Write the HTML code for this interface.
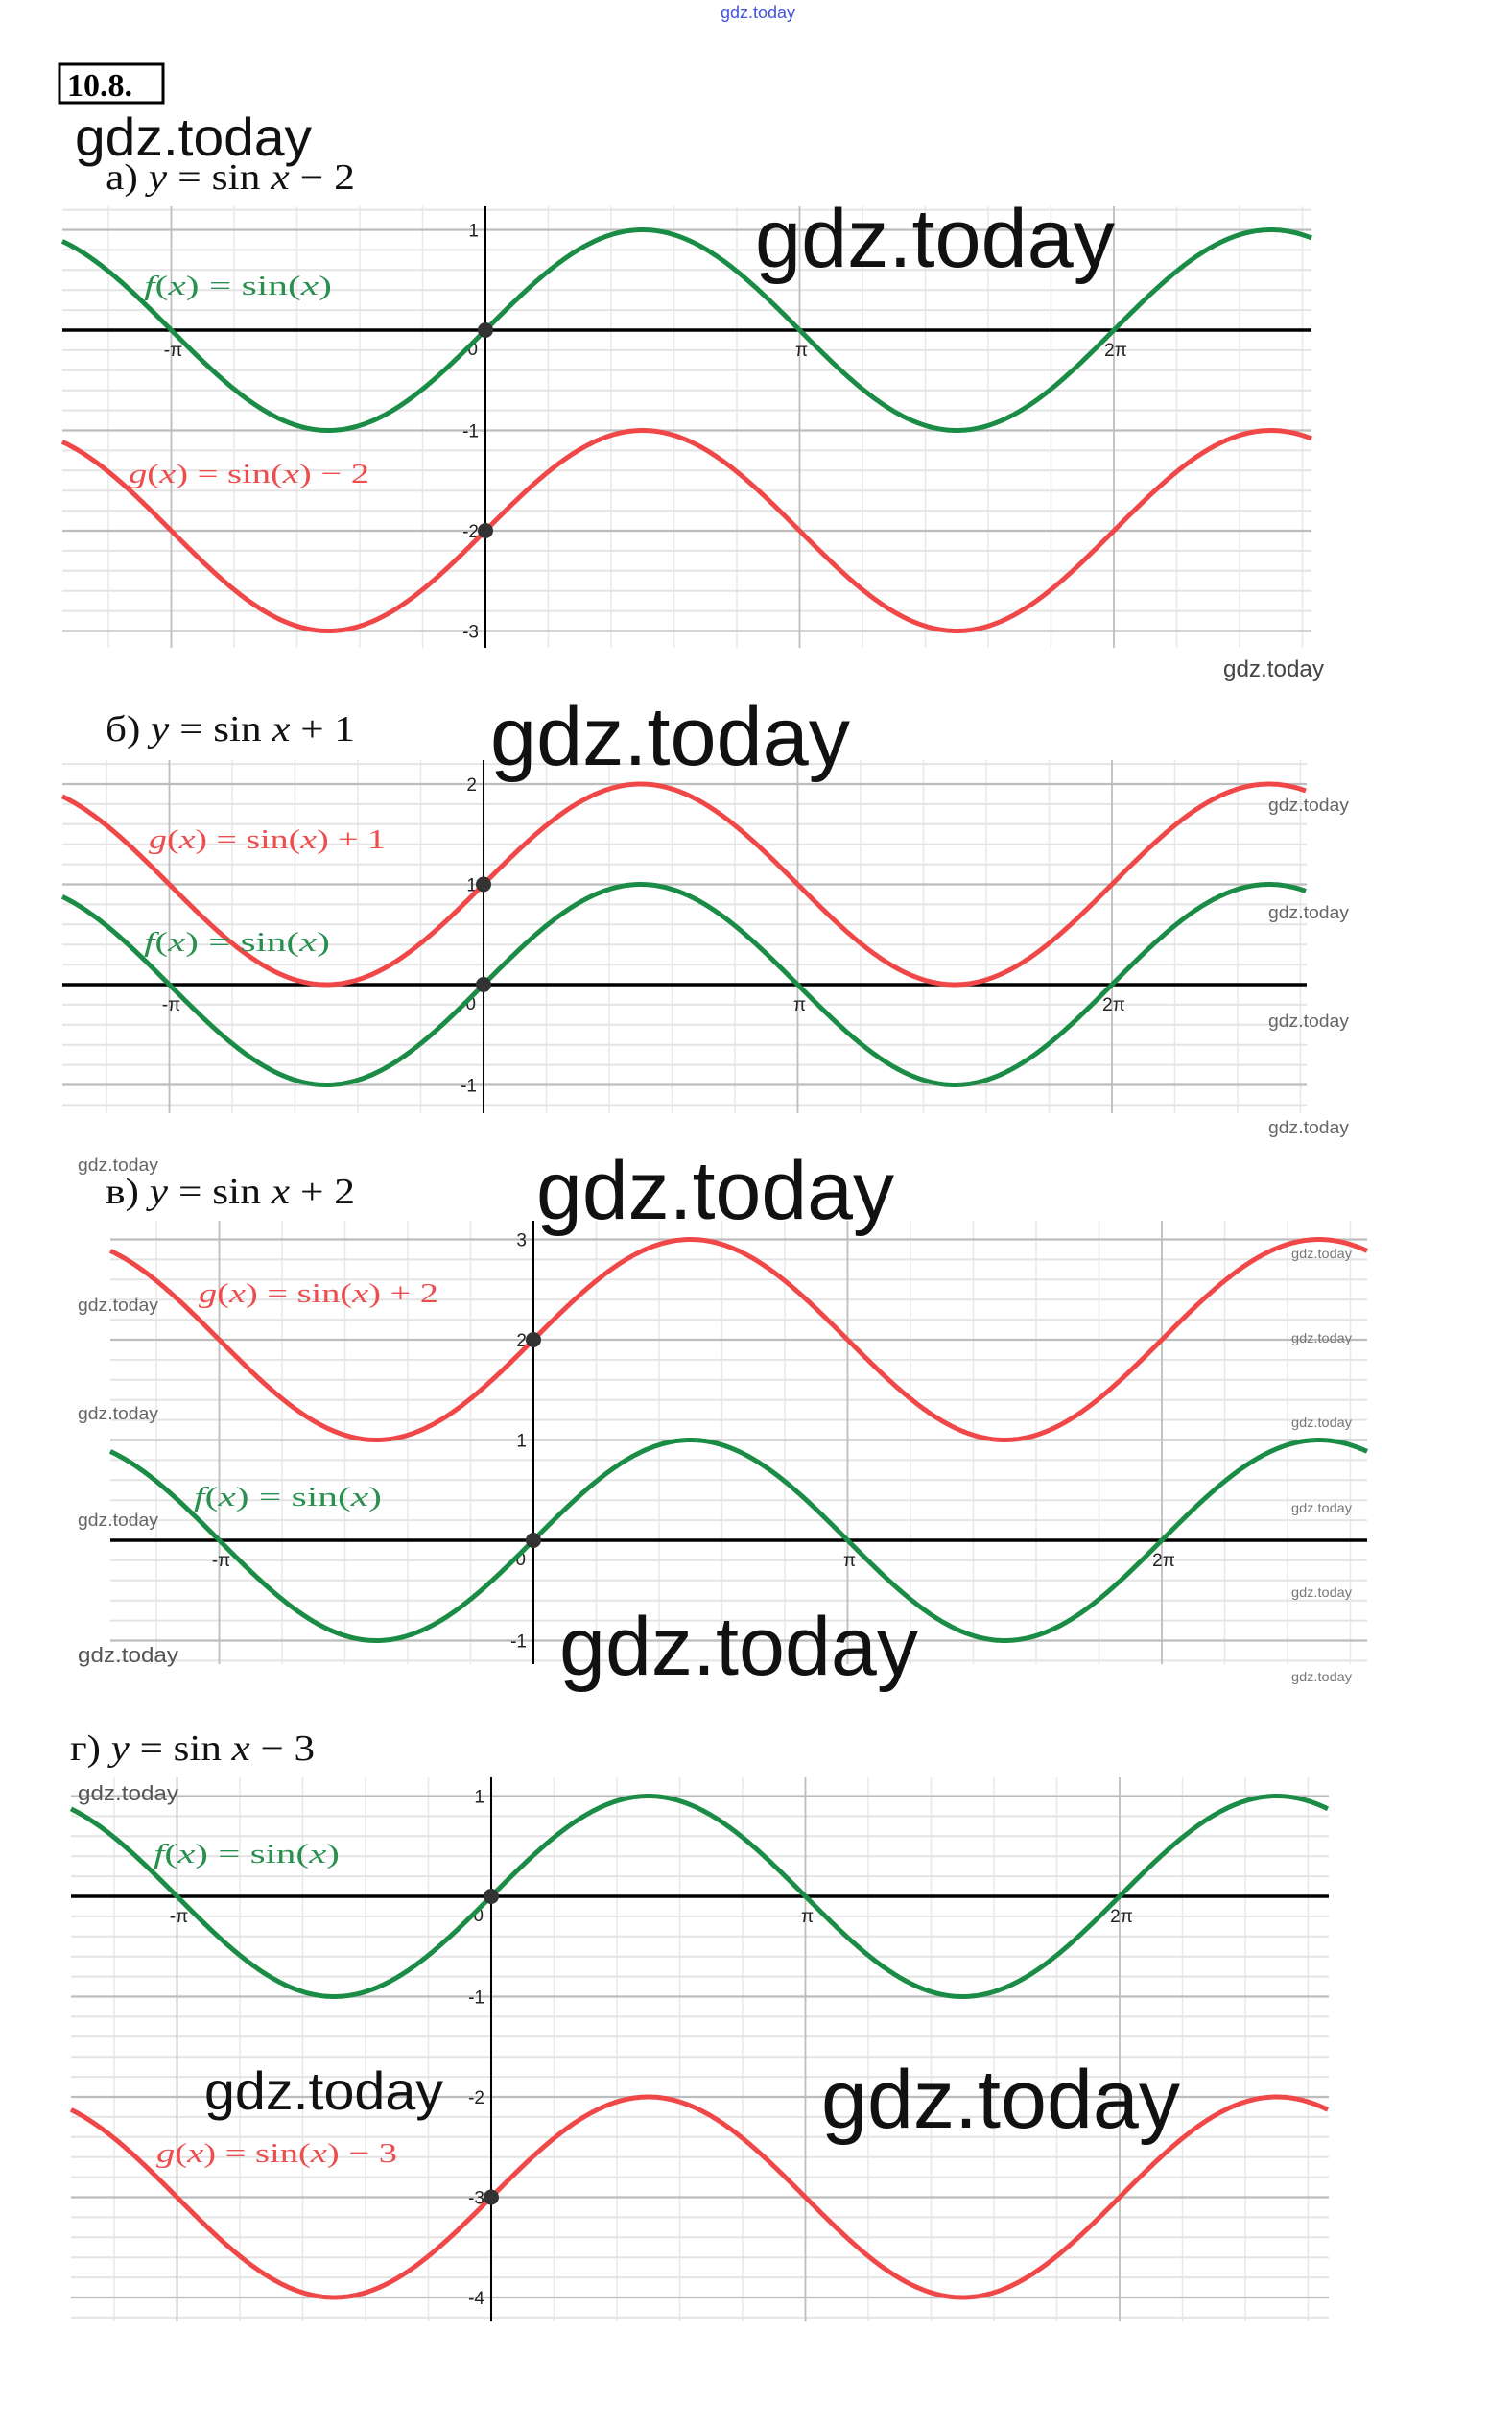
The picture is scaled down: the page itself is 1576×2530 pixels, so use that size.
<!DOCTYPE html>
<html><head><meta charset="utf-8"><style>
html,body{margin:0;padding:0;background:#fff;}
svg{display:block;}
.wm{font-family:"Liberation Sans",sans-serif;fill:#111;}
.hd{font-family:"Liberation Serif","Noto Serif CJK SC",serif;font-size:38px;fill:#111;}
.lb{font-family:"Liberation Serif",serif;font-size:29px;}
.tk{font-family:"Liberation Sans",sans-serif;font-size:19px;fill:#222;}
</style></head><body>
<svg id="s" width="1576" height="2530" viewBox="0 0 1576 2530" xmlns="http://www.w3.org/2000/svg">
<g id="plots"></g>
<text x="790" y="19" text-anchor="middle" class="wm" font-size="18" fill="#4455dd" style="fill:#4455dd">gdz.today</text>
<rect x="62" y="67" width="108" height="40" fill="none" stroke="#000" stroke-width="3"/>
<text x="70" y="100" font-family="Liberation Serif,serif" font-weight="bold" font-size="34">10.8.</text>
<text x="78" y="162" class="wm" font-size="56" textLength="247" lengthAdjust="spacingAndGlyphs">gdz.today</text>
<text x="110" y="197" class="hd" textLength="260" lengthAdjust="spacingAndGlyphs">а) <tspan font-style="italic">y</tspan> = sin <tspan font-style="italic">x</tspan> − 2</text>
<text x="787" y="278" class="wm" font-size="86" textLength="375" lengthAdjust="spacingAndGlyphs">gdz.today</text>
<text x="1275" y="705" class="wm" font-size="24" textLength="105" lengthAdjust="spacingAndGlyphs" style="fill:#444">gdz.today</text>

<text x="110" y="772" class="hd" textLength="260" lengthAdjust="spacingAndGlyphs">б) <tspan font-style="italic">y</tspan> = sin <tspan font-style="italic">x</tspan> + 1</text>
<text x="511" y="797" class="wm" font-size="86" textLength="375" lengthAdjust="spacingAndGlyphs">gdz.today</text>
<text x="1322" y="845" class="wm" font-size="18" textLength="84" lengthAdjust="spacingAndGlyphs" style="fill:#666">gdz.today</text>
<text x="1322" y="957" class="wm" font-size="18" textLength="84" lengthAdjust="spacingAndGlyphs" style="fill:#666">gdz.today</text>
<text x="1322" y="1070" class="wm" font-size="18" textLength="84" lengthAdjust="spacingAndGlyphs" style="fill:#666">gdz.today</text>
<text x="1322" y="1181" class="wm" font-size="18" textLength="84" lengthAdjust="spacingAndGlyphs" style="fill:#666">gdz.today</text>

<text x="81" y="1220" class="wm" font-size="18" textLength="84" lengthAdjust="spacingAndGlyphs" style="fill:#666">gdz.today</text>
<text x="110" y="1254" class="hd" textLength="260" lengthAdjust="spacingAndGlyphs">в) <tspan font-style="italic">y</tspan> = sin <tspan font-style="italic">x</tspan> + 2</text>
<text x="559" y="1270" class="wm" font-size="86" textLength="373" lengthAdjust="spacingAndGlyphs">gdz.today</text>
<text x="81" y="1366" class="wm" font-size="18" textLength="84" lengthAdjust="spacingAndGlyphs" style="fill:#666">gdz.today</text>
<text x="81" y="1479" class="wm" font-size="18" textLength="84" lengthAdjust="spacingAndGlyphs" style="fill:#666">gdz.today</text>
<text x="81" y="1590" class="wm" font-size="18" textLength="84" lengthAdjust="spacingAndGlyphs" style="fill:#666">gdz.today</text>
<text x="81" y="1732" class="wm" font-size="22" textLength="105" lengthAdjust="spacingAndGlyphs" style="fill:#555">gdz.today</text>
<text x="1346" y="1311" class="wm" font-size="14" textLength="63" lengthAdjust="spacingAndGlyphs" style="fill:#777">gdz.today</text>
<text x="1346" y="1399" class="wm" font-size="14" textLength="63" lengthAdjust="spacingAndGlyphs" style="fill:#777">gdz.today</text>
<text x="1346" y="1487" class="wm" font-size="14" textLength="63" lengthAdjust="spacingAndGlyphs" style="fill:#777">gdz.today</text>
<text x="1346" y="1576" class="wm" font-size="14" textLength="63" lengthAdjust="spacingAndGlyphs" style="fill:#777">gdz.today</text>
<text x="1346" y="1664" class="wm" font-size="14" textLength="63" lengthAdjust="spacingAndGlyphs" style="fill:#777">gdz.today</text>
<text x="1346" y="1752" class="wm" font-size="14" textLength="63" lengthAdjust="spacingAndGlyphs" style="fill:#777">gdz.today</text>
<text x="583" y="1745" class="wm" font-size="86" textLength="374" lengthAdjust="spacingAndGlyphs">gdz.today</text>

<text x="73" y="1834" class="hd" textLength="255" lengthAdjust="spacingAndGlyphs">г) <tspan font-style="italic">y</tspan> = sin <tspan font-style="italic">x</tspan> − 3</text>
<text x="81" y="1876" class="wm" font-size="22" textLength="105" lengthAdjust="spacingAndGlyphs" style="fill:#555">gdz.today</text>
<text x="213" y="2198" class="wm" font-size="56" textLength="249" lengthAdjust="spacingAndGlyphs">gdz.today</text>
<text x="856" y="2217" class="wm" font-size="86" textLength="374" lengthAdjust="spacingAndGlyphs">gdz.today</text>

<g class="lb">
<text x="150" y="307" fill="#2a9050" textLength="196" lengthAdjust="spacingAndGlyphs"><tspan font-style="italic">f</tspan>(<tspan font-style="italic">x</tspan>)  =  sin(<tspan font-style="italic">x</tspan>)</text>
<text x="134" y="503" fill="#ee4d4d" textLength="251" lengthAdjust="spacingAndGlyphs"><tspan font-style="italic">g</tspan>(<tspan font-style="italic">x</tspan>)  =  sin(<tspan font-style="italic">x</tspan>) − 2</text>
<text x="155" y="884" fill="#ee4d4d" textLength="247" lengthAdjust="spacingAndGlyphs"><tspan font-style="italic">g</tspan>(<tspan font-style="italic">x</tspan>)  =  sin(<tspan font-style="italic">x</tspan>) + 1</text>
<text x="150" y="991" fill="#2a9050" textLength="194" lengthAdjust="spacingAndGlyphs"><tspan font-style="italic">f</tspan>(<tspan font-style="italic">x</tspan>)  =  sin(<tspan font-style="italic">x</tspan>)</text>
<text x="207" y="1357" fill="#ee4d4d" textLength="250" lengthAdjust="spacingAndGlyphs"><tspan font-style="italic">g</tspan>(<tspan font-style="italic">x</tspan>)  =  sin(<tspan font-style="italic">x</tspan>) + 2</text>
<text x="202" y="1569" fill="#2a9050" textLength="196" lengthAdjust="spacingAndGlyphs"><tspan font-style="italic">f</tspan>(<tspan font-style="italic">x</tspan>)  =  sin(<tspan font-style="italic">x</tspan>)</text>
<text x="160" y="1941" fill="#2a9050" textLength="194" lengthAdjust="spacingAndGlyphs"><tspan font-style="italic">f</tspan>(<tspan font-style="italic">x</tspan>)  =  sin(<tspan font-style="italic">x</tspan>)</text>
<text x="163" y="2253" fill="#ee4d4d" textLength="251" lengthAdjust="spacingAndGlyphs"><tspan font-style="italic">g</tspan>(<tspan font-style="italic">x</tspan>)  =  sin(<tspan font-style="italic">x</tspan>) − 3</text>
</g>
</svg>
<script>
(function(){
var NS="http://www.w3.org/2000/svg",G=document.getElementById("plots");
function el(t,a,txt){var e=document.createElementNS(NS,t);for(var k in a)e.setAttribute(k,a[k]);if(txt!=null)e.textContent=txt;G.appendChild(e);return e;}
var P=327.5,U=104.5;
function panel(L,R,T,B,ax,y0,shift,ymin,ymax){
  var X=function(v){return ax+v*P/Math.PI;}, Y=function(v){return y0-v*U;};
  var k0=Math.ceil((L-ax)/(P/5)),k1=Math.floor((R-ax)/(P/5));
  for(var k=k0;k<=k1;k++){if(k%5==0)continue;var x=ax+k*P/5;el("line",{x1:x,x2:x,y1:T,y2:B,stroke:"#e8e8e8","stroke-width":1.5});}
  var j0=Math.ceil((y0-B)/(U/5)),j1=Math.floor((y0-T)/(U/5));
  for(var j=j0;j<=j1;j++){if(j%5==0)continue;var y=y0-j*U/5;el("line",{x1:L,x2:R,y1:y,y2:y,stroke:"#e4e4e4","stroke-width":2});}
  for(var k=-1;k<=2;k++){var x=ax+k*P;if(k==0)continue;el("line",{x1:x,x2:x,y1:T,y2:B,stroke:"#bdbdbd","stroke-width":1.8});}
  for(var v=ymin;v<=ymax;v++){if(v==0)continue;var y=Y(v);el("line",{x1:L,x2:R,y1:y,y2:y,stroke:"#bdbdbd","stroke-width":2.2});}
  if(y0>=T&&y0<=B)el("line",{x1:L,x2:R,y1:y0,y2:y0,stroke:"#000","stroke-width":3.5});
  el("line",{x1:ax,x2:ax,y1:T,y2:B,stroke:"#000","stroke-width":2});
  for(var v=ymin;v<=ymax;v++){if(v==0)continue;el("text",{x:ax-7,y:Y(v)+7,"text-anchor":"end","class":"tk"},String(v));}
  el("text",{x:ax-8,y:y0+26,"text-anchor":"end","class":"tk"},"0");
  var pl=[["-π",-1],["π",1],["2π",2]];
  pl.forEach(function(p){el("text",{x:ax+p[1]*P+2,y:y0+27,"text-anchor":"middle","class":"tk"},p[0]);});
  function curve(s,c){var d="";for(var x=L;x<=R;x+=2){var t=(x-ax)/P*Math.PI;d+=(d?"L":"M")+x.toFixed(1)+","+Y(Math.sin(t)+s).toFixed(1);}
    el("path",{d:d,fill:"none",stroke:c,"stroke-width":5,"stroke-linejoin":"round"});}
  curve(0,"#1a8c45");curve(shift,"#f04848");
  el("circle",{cx:ax,cy:y0,r:8,fill:"#333"});
  el("circle",{cx:ax,cy:Y(shift),r:8,fill:"#333"});
}
panel(65,1367,215,675,506,344,-2,-3,1);
panel(65,1362,792,1160,504,1026,1,-1,2);
panel(115,1425,1272,1734,556,1605,2,-1,3);
panel(74,1385,1852,2419,512,1976,-3,-4,1);
})();
</script>
</body></html>
